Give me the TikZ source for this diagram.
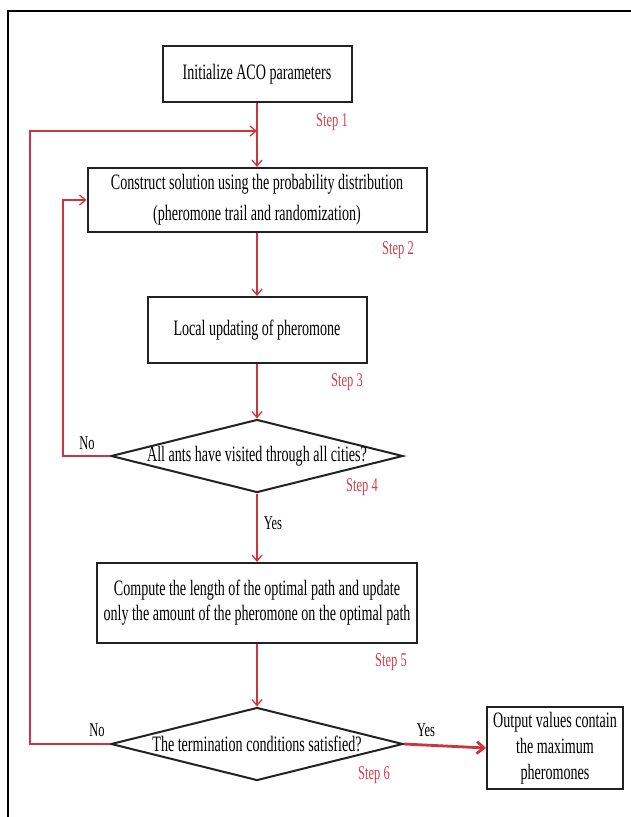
\documentclass[tikz,border=0pt]{standalone}
\usepackage{fontspec}
\setmainfont{Liberation Serif}[FakeStretch=0.64]
\usetikzlibrary{arrows.meta,shapes.geometric}
\definecolor{flowred}{RGB}{204,52,62}
\definecolor{steptext}{RGB}{214,62,72}
\definecolor{boxline}{RGB}{34,34,34}

\begin{document}
\begin{tikzpicture}[x=1pt,y=-1pt,
  procbox/.style={draw=boxline, line width=2pt, rectangle, inner sep=0pt,
    align=center, font=\fontsize{22}{25}\selectfont},
  decision/.style={draw=boxline, line width=2pt, diamond, shape aspect=4,
    inner sep=0pt, font=\fontsize{22}{25}\selectfont},
  flow/.style={draw=flowred, line width=1.3pt, -{Straight Barb[length=6pt,width=10pt]}},
  bigflow/.style={draw=flowred, line width=2.8pt, -{Straight Barb[length=7pt,width=12pt]}},
  steplabel/.style={text=steptext, font=\fontsize{19.5}{20}\selectfont, inner sep=0pt},
  answer/.style={font=\fontsize{19.5}{20}\selectfont, inner sep=0pt}]

\useasboundingbox (0,0) rectangle (631,817);

% outer frame
\draw[line width=2.5pt] (8,817) -- (8,11) -- (631,11);

% process boxes and decisions
\node[procbox, minimum width=189pt, minimum height=56pt] (init) at (257,74)
  {Initialize ACO parameters};
\node[procbox, minimum width=339pt, minimum height=64pt] (construct) at (257,200)
  {Construct solution using the probability distribution\\[6pt](pheromone trail and randomization)};
\node[procbox, minimum width=219pt, minimum height=66pt] (local) at (257,330)
  {Local updating of pheromone};
\node[decision, minimum width=292pt, minimum height=73pt] (ants) at (257,456)
  {\makebox[0pt]{All ants have visited through all cities?}};
\node[procbox, minimum width=320pt, minimum height=80pt] (compute) at (257,603)
  {Compute the length of the optimal path and update\\only the amount of the pheromone on the optimal path};
\node[decision, minimum width=292pt, minimum height=73pt] (term) at (257,744)
  {\makebox[0pt]{The termination conditions satisfied?}};
\node[procbox, minimum width=136pt, minimum height=82pt,
  font=\fontsize{22}{26}\selectfont] (output) at (555,748)
  {Output values contain\\the maximum\\pheromones};

% junction where the outer loop rejoins the main line
\coordinate (merge) at (257,131);

% connectors
\draw[flow] (init) -- (construct);
\draw[flow] (construct) -- (local);
\draw[flow] (local) -- (ants);
\draw[flow] (ants) -- (compute);
\draw[flow] (compute) -- (term);
\draw[flow] (ants.west) -- ++(-47,0) |- (construct.west);
\draw[flow] (term.west) -- ++(-80,0) |- (merge);
\draw[bigflow] (term.east) -- (output.west);

% step labels
\node[steplabel] (s1) at (332,122) {Step 1};
\node[steplabel] (s2) at (398,250) {Step 2};
\node[steplabel] (s3) at (347,382) {Step 3};
\node[steplabel] (s4) at (362,487) {Step 4};
\node[steplabel] (s5) at (391,662) {Step 5};
\node[steplabel] (s6) at (374,775) {Step 6};

% branch labels
\node[answer] (no1) at (87,443) {No};
\node[answer] (yes1) at (273,523) {Yes};
\node[answer] (no2) at (97,730) {No};
\node[answer] (yes2) at (426,730) {Yes};
\end{tikzpicture}
\end{document}
